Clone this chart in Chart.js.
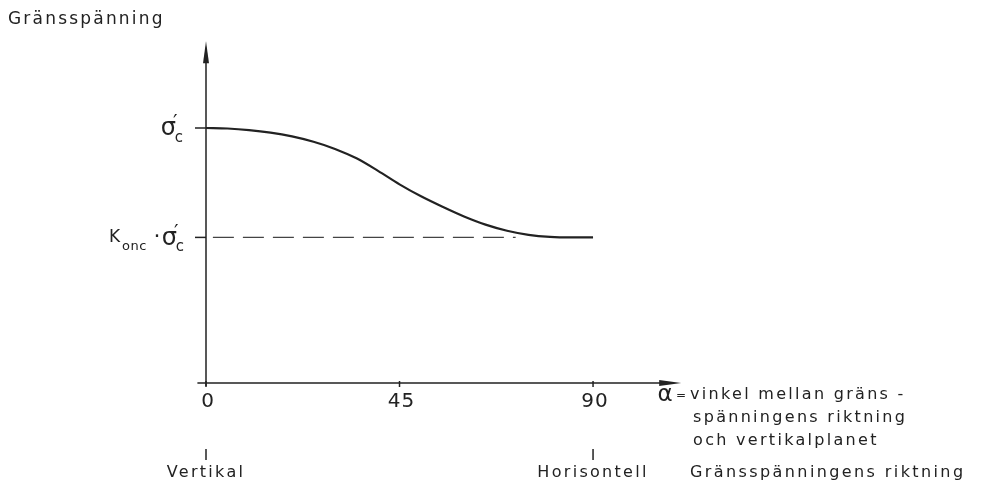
<!DOCTYPE html>
<html>
<head>
<meta charset="utf-8">
<script src="https://cdn.jsdelivr.net/npm/chart.js@4"></script>
<style>
  html, body { margin: 0; padding: 0; background: #fff; }
  #wrap { width: 983px; height: 482px; }
</style>
</head>
<body>
<div id="wrap"><canvas id="chart"></canvas></div>
<script>
// angle (degrees) against limit stress, in units of sigma'c
const angles = [0, 5, 10, 15, 20, 25, 30, 35, 40, 45, 50, 55, 60, 65, 70, 75, 80, 85, 90];
const stress = [1.000, 0.998, 0.992, 0.982, 0.967, 0.946, 0.918, 0.881, 0.832, 0.779,
                0.732, 0.691, 0.653, 0.621, 0.597, 0.581, 0.573, 0.571, 0.571];
const kLevel = 0.571;
const kLineAngles = [1.6, 72];
const xTicks = [0, 45, 90];
const yTicks = [1, kLevel];
const title = 'Gränsspänning';
const alphaText = ['vinkel mellan gräns -', 'spänningens riktning', 'och vertikalplanet'];
const dirLabels = ['Vertikal', 'Horisontell'];
const dirTitle = 'Gränsspänningens riktning';

const ink = '#222';
const FONT = '"DejaVu Sans", sans-serif';

function put(ctx, s, x, y, size, align, spacing) {
  ctx.font = size + 'px ' + FONT;
  ctx.letterSpacing = (spacing || 0) + 'px';
  ctx.textAlign = align || 'left';
  ctx.textBaseline = 'middle';
  ctx.fillText(s, x, y);
}

function sigma(ctx, right, cy) {
  // sigma'c drawn as glyph + prime + subscript
  put(ctx, 'σ', right - 7, cy + 1, 24, 'right');
  put(ctx, '′', right - 10, cy - 5, 20, 'left');
  put(ctx, 'c', right, cy + 10, 15, 'right');
}

const drawing = {
  id: 'drawing',
  afterDraw(chart) {
    const ctx = chart.ctx;
    const xs = chart.scales.x, ys = chart.scales.y;
    const x0 = xs.getPixelForValue(0);
    const y0 = ys.getPixelForValue(0);
    const top = chart.chartArea.top;
    const right = chart.chartArea.right;
    ctx.save();
    ctx.strokeStyle = ink;
    ctx.fillStyle = ink;
    ctx.lineWidth = 1.5;

    // axes
    ctx.beginPath();
    ctx.moveTo(x0, ys.getPixelForValue(-0.012));
    ctx.lineTo(x0, top + 10);
    ctx.moveTo(xs.getPixelForValue(-2), y0);
    ctx.lineTo(right - 10, y0);
    ctx.stroke();
    // arrow heads
    ctx.beginPath();
    ctx.moveTo(x0, top);
    ctx.lineTo(x0 + 3, top + 22);
    ctx.lineTo(x0 - 3, top + 22);
    ctx.closePath();
    ctx.fill();
    ctx.beginPath();
    ctx.moveTo(right, y0);
    ctx.lineTo(right - 22, y0 - 3);
    ctx.lineTo(right - 22, y0 + 3);
    ctx.closePath();
    ctx.fill();

    // x ticks
    xTicks.forEach(v => {
      const px = xs.getPixelForValue(v);
      ctx.beginPath();
      ctx.moveTo(px, y0 - 2);
      ctx.lineTo(px, y0 + 4);
      ctx.stroke();
      put(ctx, String(v), px + 2, y0 + 19, 20, 'center', 1);
    });
    // y ticks
    yTicks.forEach(v => {
      const py = ys.getPixelForValue(v);
      ctx.beginPath();
      ctx.moveTo(x0 - 11, py);
      ctx.lineTo(x0, py);
      ctx.stroke();
    });
    const py1 = ys.getPixelForValue(yTicks[0]);
    const py2 = ys.getPixelForValue(yTicks[1]);
    sigma(ctx, x0 - 23, py1);
    sigma(ctx, x0 - 22, py2);
    put(ctx, 'K', x0 - 97, py2, 17, 'left');
    put(ctx, 'onc', x0 - 84, py2 + 9, 13, 'left', 0.5);
    put(ctx, '·', x0 - 49, py2, 22, 'center');

    // title
    put(ctx, title, 8, 20, 17, 'left', 2.2);

    // alpha legend
    const ax = xs.getPixelForValue(90) + 72;
    put(ctx, 'α', ax, y0 + 12, 23, 'center');
    put(ctx, '=', ax + 11, y0 + 13, 12, 'left');
    alphaText.forEach((s, i) => {
      put(ctx, s, ax + 25 + (i ? 3 : 0), y0 + 12 + i * 23, 16, 'left', 2.3);
    });

    // direction marks and labels
    [0, 90].forEach((v, i) => {
      const px = xs.getPixelForValue(v);
      ctx.beginPath();
      ctx.moveTo(px, y0 + 66);
      ctx.lineTo(px, y0 + 77);
      ctx.stroke();
      put(ctx, dirLabels[i], px, y0 + 90, 16, 'center', 2.3);
    });
    put(ctx, dirTitle, ax + 25, y0 + 90, 16, 'left', 2.4);
    ctx.restore();
  }
};

document.addEventListener('DOMContentLoaded', function() {
  const ctx = document.getElementById('chart').getContext('2d');
  new Chart(ctx, {
    type: 'line',
    data: {
      datasets: [{
        data: angles.map((a, i) => ({ x: a, y: stress[i] })),
        borderColor: ink,
        borderWidth: 2.2,
        pointRadius: 0,
        cubicInterpolationMode: 'monotone',
        fill: false
      }, {
        data: kLineAngles.map(a => ({ x: a, y: kLevel })),
        borderColor: '#444',
        borderWidth: 1.3,
        borderDash: [21, 9],
        pointRadius: 0,
        fill: false
      }]
    },
    options: {
      responsive: true,
      maintainAspectRatio: false,
      animation: false,
      layout: {
        padding: { left: 197.4, right: 301.8, top: 41.3, bottom: 99 }
      },
      plugins: {
        legend: { display: false },
        tooltip: { enabled: false }
      },
      scales: {
        x: { type: 'linear', min: -2, max: 110.5, display: false },
        y: { type: 'linear', min: 0, max: 1.34, display: false }
      }
    },
    plugins: [drawing]
  });
});
</script>
</body>
</html>
